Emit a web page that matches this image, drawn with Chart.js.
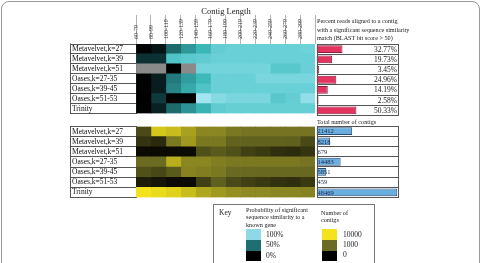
<!DOCTYPE html>
<html><head><meta charset="utf-8">
<script src="https://cdn.jsdelivr.net/npm/chart.js@4"></script>
<style>
html,body{margin:0;padding:0;background:#fff;}
body{width:481px;height:263px;position:relative;overflow:hidden;font-family:"Liberation Serif","Times New Roman",serif;color:#222;}
#frame{position:absolute;left:1px;top:1px;width:477px;height:275px;border:1px solid #9a9a9a;border-radius:8px;}
canvas{position:absolute;}
.t{position:absolute;white-space:nowrap;color:#222;will-change:transform;}
.sw{position:absolute;width:15px;}
#key{position:absolute;left:213px;top:204px;width:160px;height:80px;border:1px solid #777;}
</style></head><body>
<div id="frame"></div>
<div class="t" style="left:176px;width:100px;text-align:center;top:5.5px;font-size:8.5px;line-height:10px;">Contig Length</div>
<div class="t" style="left:317px;top:16.5px;font-size:6.2px;line-height:8.5px;">Percent reads aligned to a contig<br>with a significant sequence similarity<br>match (BLAST bit score &gt; 50)</div>
<div class="t" style="left:317px;top:118px;font-size:6.2px;line-height:8px;">Total number of contigs</div>
<div id="key"></div>
<div class="t" style="left:219px;top:208.5px;font-size:7.5px;line-height:8px;">Key</div>
<div class="t" style="left:246px;top:206.3px;font-size:6.2px;line-height:7.3px;">Probability of significant<br>sequence similarity to a<br>known gene</div>
<div class="sw" style="left:246px;top:229.3px;height:10.7px;background:#8fd9e6;"></div>
<div class="sw" style="left:246px;top:240px;height:10.7px;background:#1e6e72;"></div>
<div class="sw" style="left:246px;top:250.7px;height:10.7px;background:#000;"></div>
<div class="t" style="left:266px;top:230.7px;font-size:7.5px;line-height:8px;">100%</div>
<div class="t" style="left:266px;top:241.3px;font-size:7.5px;line-height:8px;">50%</div>
<div class="t" style="left:266px;top:252px;font-size:7.5px;line-height:8px;">0%</div>
<div class="t" style="left:321px;top:209px;font-size:6.2px;line-height:7.3px;">Number of<br>contigs</div>
<div class="sw" style="left:321.7px;top:229.3px;height:10.7px;background:#f3e21c;"></div>
<div class="sw" style="left:321.7px;top:240px;height:10.7px;background:#6b6b24;"></div>
<div class="sw" style="left:321.7px;top:250.7px;height:10.7px;background:#000;"></div>
<div class="t" style="left:343px;top:230.7px;font-size:7.5px;line-height:8px;">10000</div>
<div class="t" style="left:343px;top:240.7px;font-size:7.5px;line-height:8px;">1000</div>
<div class="t" style="left:343px;top:251px;font-size:7.5px;line-height:8px;">0</div>

<canvas id="hTop" width="252" height="118" style="left:66px;top:0px;"></canvas>
<canvas id="bTop" width="94" height="80" style="left:312px;top:40px;"></canvas>
<canvas id="hBot" width="252" height="80" style="left:66px;top:122px;"></canvas>
<canvas id="bBot" width="94" height="80" style="left:312px;top:122px;"></canvas>

<script>
// ---------- data ----------
const rowLabels = ['Metavelvet,k=27','Metavelvet,k=39','Metavelvet,k=51','Oases,k=27-35','Oases,k=39-45','Oases,k=51-53','Trinity'];
const lengthBins = ['60-79','80-99','100-119','120-139','140-159','160-179','180-199','200-219','220-239','240-259','260-279','280-299'];

// probability of a significant sequence similarity (null = no contigs, shown grey)
const probMetavelvet27 = [0.02,0.09,0.48,0.63,0.73,0.88,0.90,0.90,0.90,0.90,0.90,0.91];
const probMetavelvet39 = [0.22,0.22,0.81,0.85,0.87,0.90,0.90,0.90,0.90,0.90,0.90,0.90];
const probMetavelvet51 = [null,null,0.00,null,0.92,0.92,0.92,0.92,0.92,0.84,0.84,0.90];
const probOases2735   = [0.01,0.13,0.54,0.65,0.74,0.90,0.90,0.90,0.93,0.93,0.93,0.93];
const probOases3945   = [0.01,0.13,0.57,0.69,0.81,0.90,0.90,0.90,0.90,0.90,0.90,0.90];
const probOases5153   = [0.00,0.26,0.00,0.00,1.00,0.95,0.93,0.93,0.93,0.84,0.88,0.97];
const probTrinity     = [0.01,0.15,0.48,0.62,0.72,0.87,0.89,0.89,0.89,0.89,0.89,0.89];

// number of contigs per length bin
const contigsMetavelvet27 = [118,6000,4900,2800,1700,1700,1290,1200,1200,1200,1200,1200];
const contigsMetavelvet39 = [27,14,1290,2450,1290,1290,600,550,550,550,500,120];
const contigsMetavelvet51 = [1,1,1,1,175,330,175,60,40,20,15,30];
const contigsOases2735   = [1000,1000,3700,1700,1700,1450,1290,1290,1290,1290,1290,1200];
const contigsOases3945   = [175,105,330,1600,1450,1290,900,900,800,800,800,800];
const contigsOases5153   = [5,3,1,1,62,490,120,60,40,25,20,40];
const contigsTrinity     = [10000,8500,7200,4900,3200,2450,2000,1800,1800,1700,1700,1600];

const percentReads = [32.77,19.73,3.45,24.96,14.19,2.58,50.33];
const totalContigs = [21412,8218,679,14483,5851,459,48469];

// ---------- colour scales ----------
function interp(stops, t){
  if (t <= stops[0][0]) return stops[0][1];
  for (let i=1;i<stops.length;i++){
    if (t <= stops[i][0]){
      const [t0,c0]=stops[i-1],[t1,c1]=stops[i]; const f=(t-t0)/(t1-t0);
      return c0.map((c,k)=>Math.round(c+(c1[k]-c)*f));
    }
  }
  return stops[stops.length-1][1];
}
const probStops = [[0,[0,0,0]],[0.5,[30,110,114]],[0.75,[63,188,189]],[0.9,[104,208,214]],[1,[162,228,240]]];
const countStops = [[0,[0,0,0]],[3,[107,107,34]],[4,[243,226,28]]];
const probColor = v => v === null ? '#8a8a8a' : 'rgb(' + interp(probStops, v).join(',') + ')';
const countColor = v => 'rgb(' + interp(countStops, Math.log10(v + 1)).join(',') + ')';

const SERIF = '"Liberation Serif","Times New Roman",serif';
Chart.defaults.font.family = SERIF;

const labelBox = {
  id:'labelBox',
  afterDraw(chart){
    const ys = chart.scales.y, ctx = chart.ctx;
    ctx.save(); ctx.strokeStyle='#555'; ctx.lineWidth=1;
    const x0 = Math.round(ys.right - 66) + 0.5;
    ctx.beginPath(); ctx.moveTo(x0, ys.top - 0.5); ctx.lineTo(x0, ys.bottom + 0.5); ctx.stroke();
    ctx.restore();
  }
};
const frame = {
  id:'frame',
  afterDraw(chart){
    const a = chart.chartArea, ctx = chart.ctx;
    ctx.save(); ctx.strokeStyle='#555'; ctx.lineWidth=1;
    ctx.beginPath();
    ctx.moveTo(Math.round(a.left)+0.5, a.top); ctx.lineTo(Math.round(a.left)+0.5, a.bottom);
    ctx.moveTo(Math.round(a.right)-0.5, a.top); ctx.lineTo(Math.round(a.right)-0.5, a.bottom);
    ctx.stroke(); ctx.restore();
  }
};
const valueLabels = {
  id:'valueLabels',
  afterDatasetsDraw(chart, args, o){
    const meta = chart.getDatasetMeta(0), a = chart.chartArea, ctx = chart.ctx;
    ctx.save(); ctx.font = o.size + 'px ' + SERIF; ctx.fillStyle = o.color;
    ctx.textBaseline = 'middle'; ctx.textAlign = o.align;
    const x = o.align === 'right' ? a.right - 2 : a.left + 1;
    meta.data.forEach((el,i) => ctx.fillText(o.fmt(chart.data.datasets[0].data[i]), x, el.y + 0.5));
    ctx.restore();
  }
};

function heatChart(id, rows, colorFn, withHeader, padding){
  const datasets = lengthBins.map((bin, j) => ({
    label: bin,
    data: rows.map(() => [j, j + 1]),
    backgroundColor: rows.map(r => colorFn(r[j])),
    borderWidth: 0,
    categoryPercentage: 1, barPercentage: 1, grouped: false
  }));
  return new Chart(document.getElementById(id), {
    type:'bar',
    data:{ labels: rowLabels, datasets },
    plugins:[labelBox],
    options:{
      indexAxis:'y', responsive:false, animation:false,
      layout:{ padding },
      plugins:{ legend:{display:false}, tooltip:{enabled:false} },
      scales:{
        x:{
          type:'linear', position:'top', min:0, max:12, display: withHeader,
          afterBuildTicks: s => { s.ticks = Array.from({length:13}, (_, i) => ({value:i})); },
          afterFit: s => { if (withHeader) s.height = 44; },
          ticks:{ autoSkip:false, minRotation:90, maxRotation:90, padding:-24, labelOffset:7.46,
                  font:{size:6, family:SERIF}, color:'#333',
                  callback: v => lengthBins[v] !== undefined ? lengthBins[v] : '' },
          grid:{ drawOnChartArea:false, tickLength:29, color:'#b4b4b4' },
          border:{ display:false }
        },
        y:{
          type:'category', offset:true,
          afterFit: s => { s.width = 64; },
          grid:{ offset:true, drawOnChartArea:false, tickLength:66, color:'#555' },
          border:{ display:true, color:'#555' },
          ticks:{ autoSkip:false, crossAlign:'far', font:{size:7.5, family:SERIF}, color:'#111', padding:0 }
        }
      }
    }
  });
}

function barChart(id, values, max, fill, stroke, lab){
  return new Chart(document.getElementById(id), {
    type:'bar',
    data:{ labels: rowLabels, datasets:[{ data: values, backgroundColor: fill, borderColor: stroke, borderWidth:1,
      categoryPercentage:0.76, barPercentage:1 }] },
    plugins:[frame, valueLabels],
    options:{
      indexAxis:'y', responsive:false, animation:false,
      layout:{ padding:{ left:4.5, right:7, top:4, bottom:4.5 } },
      plugins:{ legend:{display:false}, tooltip:{enabled:false}, valueLabels: lab },
      scales:{
        x:{ min:0, max:max, display:false },
        y:{ display:true, offset:true, ticks:{display:false},
            grid:{ offset:true, drawTicks:false, color:'#555' }, border:{display:false} }
      }
    }
  });
}

const probRows = [probMetavelvet27, probMetavelvet39, probMetavelvet51, probOases2735, probOases3945, probOases5153, probTrinity];
const countRows = [contigsMetavelvet27, contigsMetavelvet39, contigsMetavelvet51, contigsOases2735, contigsOases3945, contigsOases5153, contigsTrinity];

heatChart('hTop', probRows, probColor, true, {left:6, right:3, top:0, bottom:2.5});
heatChart('hBot', countRows, countColor, false, {left:6, right:3, top:4, bottom:4});
barChart('bTop', percentReads, 104, '#e3335f', '#8a1f40',
  { align:'right', size:7.5, color:'#222', fmt: v => v.toFixed(2) + '%' });
barChart('bBot', totalContigs, 49500, '#6aaee0', '#2c4a72',
  { align:'left', size:6.5, color:'#1a2a48', fmt: v => String(v) });
</script>
</body></html>
